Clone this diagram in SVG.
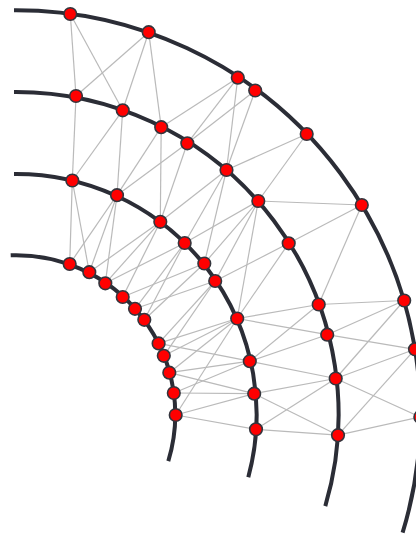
<svg xmlns="http://www.w3.org/2000/svg" width="416" height="537" viewBox="0 0 416 537">
<style>
.ring{fill:none;stroke:#2b2d36;stroke-width:4}
.e{stroke:#bababa;stroke-width:1.2;fill:none}
.n{fill:#ff0000;stroke:#33353d;stroke-width:1.6}
</style>
<rect width="416" height="537" fill="#ffffff"/>
<g id="rings">
<path class="ring" d="M14 10.2 A404.3 404.3 0 0 1 402.6 532.7"/>
<path class="ring" d="M14 91.9 A322.6 322.6 0 0 1 325.3 506.1"/>
<path class="ring" d="M14 173.9 A240.6 240.6 0 0 1 248.3 477.2"/>
<path class="ring" d="M10.7 255.3 A159.3 159.3 0 0 1 168.3 461.1"/>
</g>
<g id="connectors">
<line class="e" x1="70.3" y1="14" x2="76" y2="96"/>
<line class="e" x1="70.3" y1="14" x2="122.7" y2="110.3"/>
<line class="e" x1="148.7" y1="32.2" x2="76" y2="96"/>
<line class="e" x1="148.7" y1="32.2" x2="122.7" y2="110.3"/>
<line class="e" x1="148.7" y1="32.2" x2="161.2" y2="127.2"/>
<line class="e" x1="237.8" y1="77.7" x2="161.2" y2="127.2"/>
<line class="e" x1="237.8" y1="77.7" x2="187.3" y2="143.3"/>
<line class="e" x1="237.8" y1="77.7" x2="226.5" y2="170"/>
<line class="e" x1="255.2" y1="90.5" x2="187.3" y2="143.3"/>
<line class="e" x1="255.2" y1="90.5" x2="226.5" y2="170"/>
<line class="e" x1="306.7" y1="134" x2="226.5" y2="170"/>
<line class="e" x1="306.7" y1="134" x2="258.3" y2="201"/>
<line class="e" x1="361.8" y1="205" x2="258.3" y2="201"/>
<line class="e" x1="361.8" y1="205" x2="288.7" y2="243.3"/>
<line class="e" x1="361.8" y1="205" x2="318.7" y2="304.5"/>
<line class="e" x1="404.2" y1="300.5" x2="318.7" y2="304.5"/>
<line class="e" x1="404.2" y1="300.5" x2="327.2" y2="334.7"/>
<line class="e" x1="404.2" y1="300.5" x2="335.7" y2="378.5"/>
<line class="e" x1="415" y1="349.3" x2="327.2" y2="334.7"/>
<line class="e" x1="415" y1="349.3" x2="335.7" y2="378.5"/>
<line class="e" x1="415" y1="349.3" x2="338" y2="435.2"/>
<line class="e" x1="420.3" y1="417" x2="335.7" y2="378.5"/>
<line class="e" x1="420.3" y1="417" x2="338" y2="435.2"/>
<line class="e" x1="76" y1="96" x2="72.3" y2="180.5"/>
<line class="e" x1="122.7" y1="110.3" x2="72.3" y2="180.5"/>
<line class="e" x1="122.7" y1="110.3" x2="117" y2="195.2"/>
<line class="e" x1="161.2" y1="127.2" x2="117" y2="195.2"/>
<line class="e" x1="161.2" y1="127.2" x2="160.3" y2="221.8"/>
<line class="e" x1="187.3" y1="143.3" x2="117" y2="195.2"/>
<line class="e" x1="187.3" y1="143.3" x2="160.3" y2="221.8"/>
<line class="e" x1="226.5" y1="170" x2="160.3" y2="221.8"/>
<line class="e" x1="226.5" y1="170" x2="184.7" y2="243"/>
<line class="e" x1="226.5" y1="170" x2="204.3" y2="263.5"/>
<line class="e" x1="258.3" y1="201" x2="184.7" y2="243"/>
<line class="e" x1="258.3" y1="201" x2="204.3" y2="263.5"/>
<line class="e" x1="258.3" y1="201" x2="215.2" y2="281"/>
<line class="e" x1="258.3" y1="201" x2="237.2" y2="318.5"/>
<line class="e" x1="288.7" y1="243.3" x2="215.2" y2="281"/>
<line class="e" x1="288.7" y1="243.3" x2="237.2" y2="318.5"/>
<line class="e" x1="318.7" y1="304.5" x2="237.2" y2="318.5"/>
<line class="e" x1="318.7" y1="304.5" x2="249.8" y2="361.2"/>
<line class="e" x1="327.2" y1="334.7" x2="237.2" y2="318.5"/>
<line class="e" x1="327.2" y1="334.7" x2="249.8" y2="361.2"/>
<line class="e" x1="335.7" y1="378.5" x2="249.8" y2="361.2"/>
<line class="e" x1="335.7" y1="378.5" x2="254.2" y2="393.7"/>
<line class="e" x1="335.7" y1="378.5" x2="256" y2="429.3"/>
<line class="e" x1="338" y1="435.2" x2="254.2" y2="393.7"/>
<line class="e" x1="338" y1="435.2" x2="256" y2="429.3"/>
<line class="e" x1="72.3" y1="180.5" x2="69.7" y2="264"/>
<line class="e" x1="72.3" y1="180.5" x2="89.3" y2="272.2"/>
<line class="e" x1="117" y1="195.2" x2="69.7" y2="264"/>
<line class="e" x1="117" y1="195.2" x2="89.3" y2="272.2"/>
<line class="e" x1="117" y1="195.2" x2="105.3" y2="283.3"/>
<line class="e" x1="160.3" y1="221.8" x2="89.3" y2="272.2"/>
<line class="e" x1="160.3" y1="221.8" x2="105.3" y2="283.3"/>
<line class="e" x1="160.3" y1="221.8" x2="122.7" y2="297"/>
<line class="e" x1="184.7" y1="243" x2="105.3" y2="283.3"/>
<line class="e" x1="184.7" y1="243" x2="135" y2="308.8"/>
<line class="e" x1="184.7" y1="243" x2="144.3" y2="319.8"/>
<line class="e" x1="204.3" y1="263.5" x2="122.7" y2="297"/>
<line class="e" x1="204.3" y1="263.5" x2="144.3" y2="319.8"/>
<line class="e" x1="215.2" y1="281" x2="135" y2="308.8"/>
<line class="e" x1="215.2" y1="281" x2="158.6" y2="343.4"/>
<line class="e" x1="215.2" y1="281" x2="163.8" y2="355.8"/>
<line class="e" x1="237.2" y1="318.5" x2="158.6" y2="343.4"/>
<line class="e" x1="237.2" y1="318.5" x2="163.8" y2="355.8"/>
<line class="e" x1="237.2" y1="318.5" x2="169.3" y2="372.7"/>
<line class="e" x1="237.2" y1="318.5" x2="175.7" y2="415"/>
<line class="e" x1="249.8" y1="361.2" x2="158.6" y2="343.4"/>
<line class="e" x1="249.8" y1="361.2" x2="169.3" y2="372.7"/>
<line class="e" x1="249.8" y1="361.2" x2="173.8" y2="393"/>
<line class="e" x1="254.2" y1="393.7" x2="169.3" y2="372.7"/>
<line class="e" x1="254.2" y1="393.7" x2="173.8" y2="393"/>
<line class="e" x1="254.2" y1="393.7" x2="175.7" y2="415"/>
<line class="e" x1="256" y1="429.3" x2="175.7" y2="415"/>
</g>
<g id="A1"><circle class="n" cx="70.3" cy="14" r="6.3"/></g>
<g id="A2"><circle class="n" cx="148.7" cy="32.2" r="6.3"/></g>
<g id="A3"><circle class="n" cx="237.8" cy="77.7" r="6.3"/></g>
<g id="A4"><circle class="n" cx="255.2" cy="90.5" r="6.3"/></g>
<g id="A5"><circle class="n" cx="306.7" cy="134" r="6.3"/></g>
<g id="A6"><circle class="n" cx="361.8" cy="205" r="6.3"/></g>
<g id="A7"><circle class="n" cx="404.2" cy="300.5" r="6.3"/></g>
<g id="A8"><circle class="n" cx="415" cy="349.3" r="6.3"/></g>
<g id="A9"><circle class="n" cx="420.3" cy="417" r="6.3"/></g>
<g id="B1"><circle class="n" cx="76" cy="96" r="6.3"/></g>
<g id="B2"><circle class="n" cx="122.7" cy="110.3" r="6.3"/></g>
<g id="B3"><circle class="n" cx="161.2" cy="127.2" r="6.3"/></g>
<g id="B4"><circle class="n" cx="187.3" cy="143.3" r="6.3"/></g>
<g id="B5"><circle class="n" cx="226.5" cy="170" r="6.3"/></g>
<g id="B6"><circle class="n" cx="258.3" cy="201" r="6.3"/></g>
<g id="B7"><circle class="n" cx="288.7" cy="243.3" r="6.3"/></g>
<g id="B8"><circle class="n" cx="318.7" cy="304.5" r="6.3"/></g>
<g id="B9"><circle class="n" cx="327.2" cy="334.7" r="6.3"/></g>
<g id="B10"><circle class="n" cx="335.7" cy="378.5" r="6.3"/></g>
<g id="B11"><circle class="n" cx="338" cy="435.2" r="6.3"/></g>
<g id="C1"><circle class="n" cx="72.3" cy="180.5" r="6.3"/></g>
<g id="C2"><circle class="n" cx="117" cy="195.2" r="6.3"/></g>
<g id="C3"><circle class="n" cx="160.3" cy="221.8" r="6.3"/></g>
<g id="C4"><circle class="n" cx="184.7" cy="243" r="6.3"/></g>
<g id="C5"><circle class="n" cx="204.3" cy="263.5" r="6.3"/></g>
<g id="C6"><circle class="n" cx="215.2" cy="281" r="6.3"/></g>
<g id="C7"><circle class="n" cx="237.2" cy="318.5" r="6.3"/></g>
<g id="C8"><circle class="n" cx="249.8" cy="361.2" r="6.3"/></g>
<g id="C9"><circle class="n" cx="254.2" cy="393.7" r="6.3"/></g>
<g id="C10"><circle class="n" cx="256" cy="429.3" r="6.3"/></g>
<g id="D1"><circle class="n" cx="69.7" cy="264" r="6.3"/></g>
<g id="D2"><circle class="n" cx="89.3" cy="272.2" r="6.3"/></g>
<g id="D3"><circle class="n" cx="105.3" cy="283.3" r="6.3"/></g>
<g id="D4"><circle class="n" cx="122.7" cy="297" r="6.3"/></g>
<g id="D5"><circle class="n" cx="135" cy="308.8" r="6.3"/></g>
<g id="D6"><circle class="n" cx="144.3" cy="319.8" r="6.3"/></g>
<g id="D7"><circle class="n" cx="158.6" cy="343.4" r="6.3"/></g>
<g id="D8"><circle class="n" cx="163.8" cy="355.8" r="6.3"/></g>
<g id="D9"><circle class="n" cx="169.3" cy="372.7" r="6.3"/></g>
<g id="D10"><circle class="n" cx="173.8" cy="393" r="6.3"/></g>
<g id="D11"><circle class="n" cx="175.7" cy="415" r="6.3"/></g>
</svg>
